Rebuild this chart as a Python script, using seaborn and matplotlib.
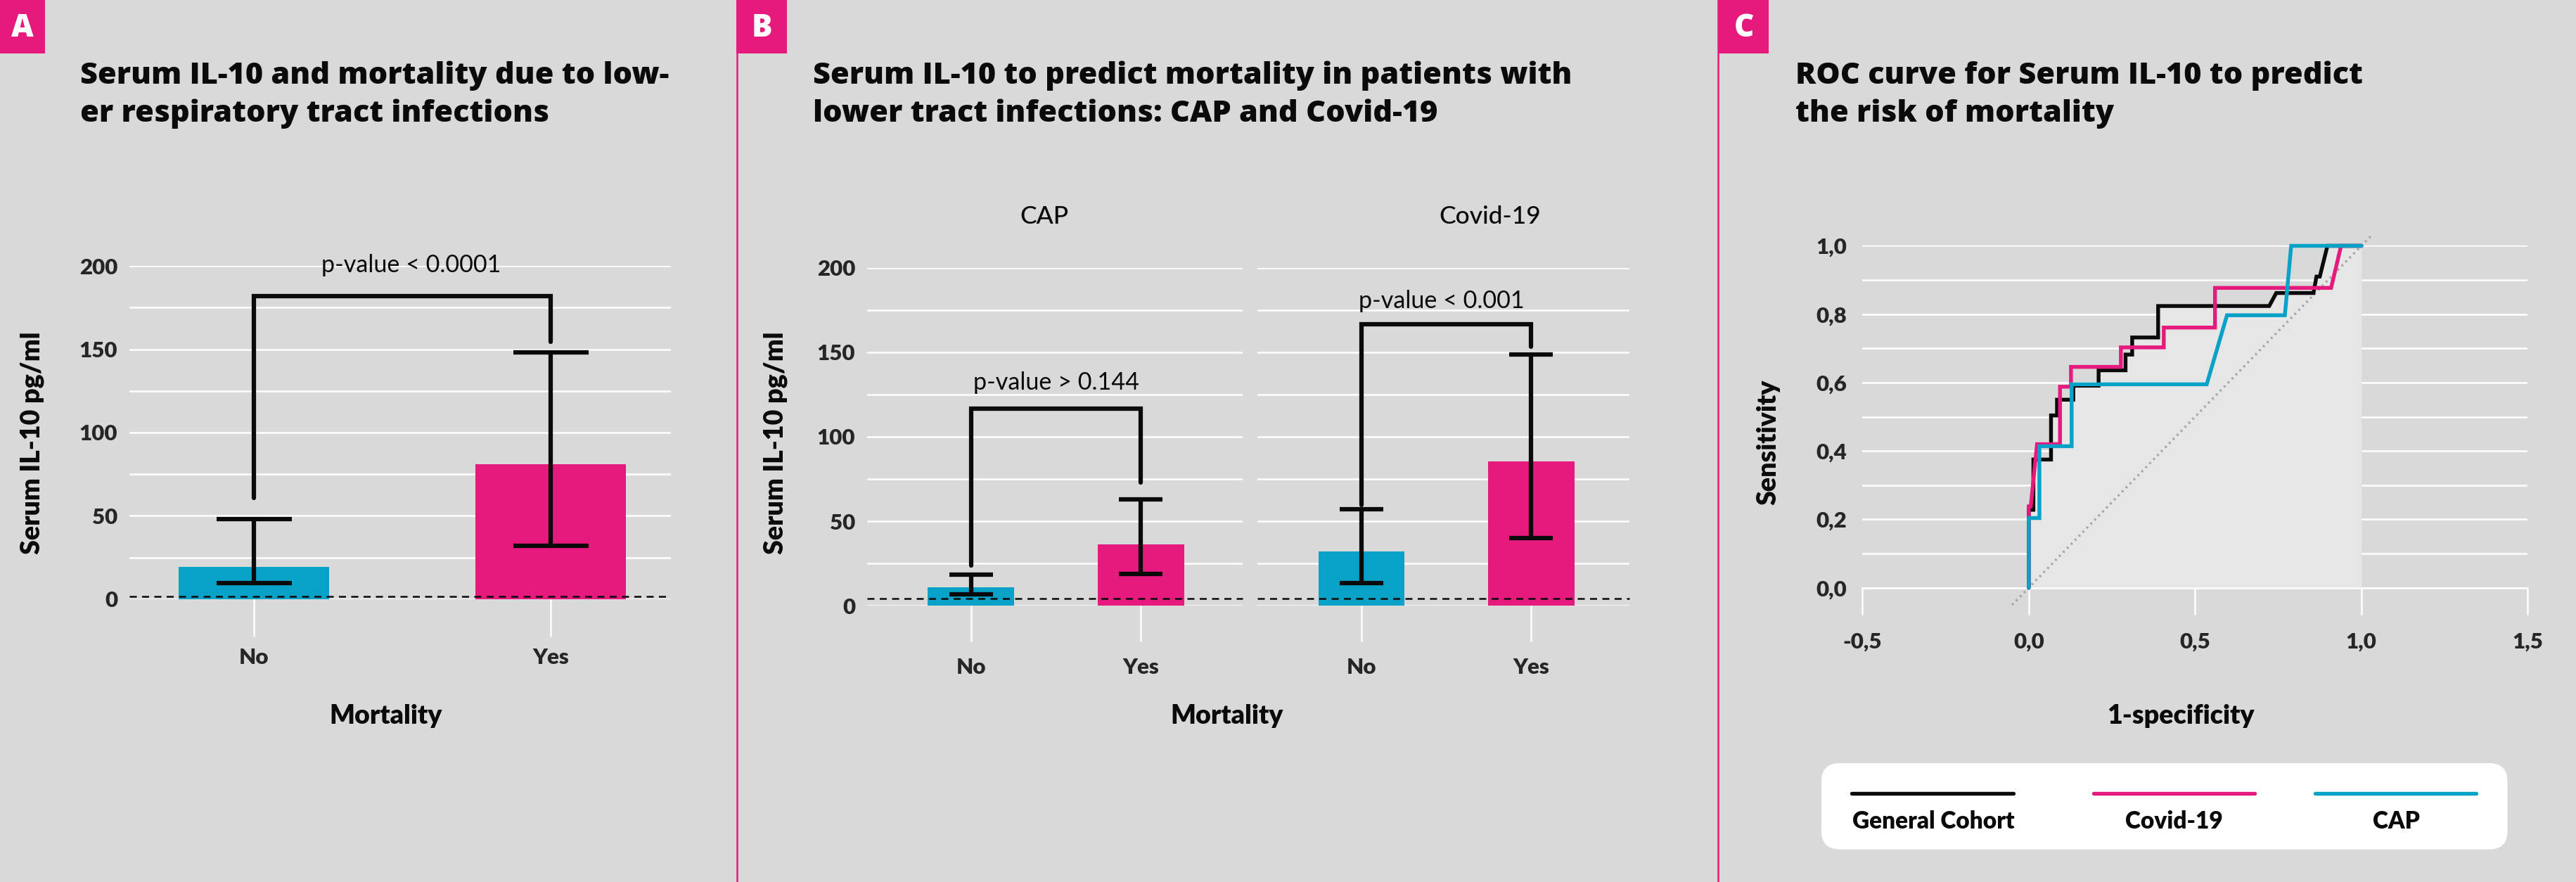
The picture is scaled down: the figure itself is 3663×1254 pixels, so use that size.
import numpy as np
import pandas as pd
import matplotlib
matplotlib.use('Agg')
import matplotlib.pyplot as plt
import seaborn as sns
from matplotlib.patches import FancyBboxPatch, Rectangle
from matplotlib.lines import Line2D

# ---------------- data ----------------
mortality = ['No', 'Yes']

# Panel A: general cohort
a_mean = [19.3, 81.0]
a_low = [9.5, 32.1]
a_high = [48.0, 148.0]
a_bracket = [60.8, 181.8, 154.4]      # left leg end, top, right leg end
a_pvalue = 'p-value < 0.0001'
a_ref = 1.7

# Panel B: CAP and Covid-19
b_groups = ['CAP', 'Covid-19']
cap_mean = [11.0, 36.3]
cap_low = [6.7, 19.0]
cap_high = [18.3, 62.9]
cap_bracket = [24.0, 116.8, 72.9]
cap_pvalue = 'p-value > 0.144'
covid_mean = [32.3, 85.5]
covid_low = [13.3, 40.0]
covid_high = [57.0, 148.8]
covid_bracket = [59.6, 166.4, 153.1]
covid_pvalue = 'p-value < 0.001'
b_ref = 4.3

y_ticks_bar = [0, 50, 100, 150, 200]

# Panel C: ROC curves
roc_names = ['General Cohort', 'Covid-19', 'CAP']
gen_fpr = [0, 0, 0.014, 0.014, 0.067, 0.067, 0.085, 0.085, 0.134, 0.134, 0.21, 0.21,
           0.291, 0.291, 0.311, 0.311, 0.389, 0.389, 0.723, 0.744, 0.856, 0.865, 0.875, 0.898, 1.0]
gen_tpr = [0, 0.228, 0.228, 0.375, 0.375, 0.504, 0.504, 0.55, 0.55, 0.591, 0.591, 0.636,
           0.636, 0.682, 0.682, 0.732, 0.732, 0.824, 0.824, 0.862, 0.862, 0.910, 0.910, 1.0, 1.0]
cov_fpr = [0, 0, 0.006, 0.025, 0.094, 0.094, 0.127, 0.127, 0.277, 0.277, 0.406, 0.406,
           0.56, 0.56, 0.909, 0.939, 1.0]
cov_tpr = [0, 0.238, 0.238, 0.42, 0.42, 0.588, 0.588, 0.646, 0.646, 0.703, 0.703, 0.761,
           0.761, 0.877, 0.877, 1.0, 1.0]
cap_fpr = [0, 0, 0.032, 0.032, 0.129, 0.129, 0.535, 0.596, 0.77, 0.789, 1.0]
cap_tpr = [0, 0.204, 0.204, 0.414, 0.414, 0.595, 0.595, 0.797, 0.797, 1.0, 1.0]
diag = [-0.05, 1.03]
c_xticks = [-0.5, 0.0, 0.5, 1.0, 1.5]
c_xticklabels = ['-0,5', '0,0', '0,5', '1,0', '1,5']
c_yticks = [0.0, 0.2, 0.4, 0.6, 0.8, 1.0]
c_yticklabels = ['0,0', '0,2', '0,4', '0,6', '0,8', '1,0']

# ---------------- style ----------------
BG = '#d9d9d9'
PINK = '#e6197d'
BLUE = '#08a1c7'
FILL = '#e6e6e6'
INK = '#0a0a0a'

sns.set_style('white', rc={'axes.facecolor': BG, 'figure.facecolor': BG})
plt.rcParams['font.family'] = ['Lato', 'DejaVu Sans']

W, H, DPI = 3663, 1254, 300
fig = plt.figure(figsize=(W / DPI, H / DPI), dpi=DPI, facecolor=BG)


def rect(x0, y0, x1, y1):
    return [x0 / W, 1 - y1 / H, (x1 - x0) / W, (y1 - y0) / H]


def pt(v):
    return v * 72 / DPI


def ftext(x, y, s, **kw):
    return fig.text(x / W, 1 - y / H, s, **kw)


# separators and panel letters
for sx in (1048, 2443):
    fig.add_artist(Line2D([sx / W, sx / W], [0, 1], color=PINK, lw=pt(2.5)))
for (bx0, bx1, letter) in ((-8, 64, 'A'), (1047, 1119, 'B'), (2444, 2515, 'C')):
    fig.add_artist(Rectangle((bx0 / W, 1 - 76 / H), (bx1 - bx0) / W, 76 / H,
                             transform=fig.transFigure, color=PINK, lw=0))
    ftext((max(bx0, 0) + bx1) / 2 if bx0 < 0 else (bx0 + bx1) / 2, 52, letter,
          color='white', fontsize=10.5, fontweight=800, family=['Open Sans', 'DejaVu Sans'],
          ha='center', va='baseline')

TITLE_KW = dict(fontsize=10.4, fontweight=800, family=['Open Sans', 'DejaVu Sans'],
                color=INK, ha='left', va='baseline')
ftext(114, 119, 'Serum IL-10 and mortality due to low-', **TITLE_KW)
ftext(114, 173, 'er respiratory tract infections', **TITLE_KW)
ftext(1156, 119, 'Serum IL-10 to predict mortality in patients with', **TITLE_KW)
ftext(1156, 173, 'lower tract infections: CAP and Covid-19', **TITLE_KW)
ftext(2553, 119, 'ROC curve for Serum IL-10 to predict', **TITLE_KW)
ftext(2553, 173, 'the risk of mortality', **TITLE_KW)

LW = 1.5


def bar_panel(ax, means, lows, highs, bracket, ptext, ptext_x, ptext_y, ref, xlim,
              cap_pts, tick_len, xpad, show_y=True):
    sns.barplot(x=mortality, y=means, hue=mortality, palette=[BLUE, PINK],
                width=0.506, saturation=1, errorbar=None, legend=False, ax=ax, zorder=2,
                edgecolor='none', linewidth=0)
    means = np.asarray(means)
    yerr = [means - np.asarray(lows), np.asarray(highs) - means]
    ax.errorbar([0, 1], means, yerr=yerr, fmt='none', ecolor=INK, elinewidth=LW,
                capsize=cap_pts, capthick=LW, zorder=4)
    ax.plot([0, 0, 1, 1], [bracket[0], bracket[1], bracket[1], bracket[2]], color=INK,
            lw=LW, solid_capstyle='round', solid_joinstyle='miter', zorder=4)
    ax.text(ptext_x, ptext_y, ptext, ha='center', va='center', fontsize=8.2,
            fontweight='normal', color=INK, zorder=5)
    ax.axhline(ref, color=INK, lw=0.6, ls=(0, (4, 3)), zorder=3, clip_on=False)
    for s in ax.spines.values():
        s.set_visible(False)
    ax.set_ylim(0, 200)
    ax.set_xlim(*xlim)
    ax.set_yticks(y_ticks_bar)
    ax.set_yticks(np.arange(0, 201, 25), minor=True)
    ax.grid(True, which='both', axis='y', color='white', lw=0.6)
    ax.grid(False, axis='x')
    ax.set_axisbelow(True)
    ax.tick_params(axis='x', length=pt(tick_len), width=0.6, color='white', pad=xpad,
                   labelsize=7.5, bottom=True)
    ax.tick_params(axis='y', which='both', length=0, pad=pt(17), labelsize=7.5, left=False)
    if not show_y:
        ax.set_yticklabels([])
    for lbl in ax.get_xticklabels() + ax.get_yticklabels():
        lbl.set_fontweight('heavy')
    ax.set_xlabel('')
    ax.set_ylabel('')


# ---------------- Panel A ----------------
axA = fig.add_axes(rect(184, 378.3, 954, 851.7))
bar_panel(axA, a_mean, a_low, a_high, a_bracket, a_pvalue, 0.529, 200.7, a_ref,
          (-0.419, 1.404), pt(53.5), 53, 4.0)
axA.set_ylabel('Serum IL-10 pg/ml', fontsize=9, fontweight='heavy', color=INK, va='center')
axA.yaxis.set_label_coords(-0.18, 0.468)
axA.set_xlabel('Mortality', fontsize=9, fontweight='heavy', color=INK, va='center')
axA.xaxis.set_label_coords(0.474, -0.351)

# ---------------- Panel B ----------------
axB1 = fig.add_axes(rect(1233, 380.7, 1767, 861.3))
axB2 = fig.add_axes(rect(1788, 380.7, 2317, 861.3))
bar_panel(axB1, cap_mean, cap_low, cap_high, cap_bracket, cap_pvalue, 0.502, 132.0, b_ref,
          (-0.61, 1.598), pt(30.8), 51, 5.5)
bar_panel(axB2, covid_mean, covid_low, covid_high, covid_bracket, covid_pvalue, 0.472, 180.5,
          b_ref, (-0.611, 1.577), pt(30.8), 51, 5.5, show_y=False)
axB1.set_ylabel('Serum IL-10 pg/ml', fontsize=9, fontweight='heavy', color=INK, va='center')
axB1.yaxis.set_label_coords(-0.2434, 0.481)
axB1.set_xlabel('Mortality', fontsize=9, fontweight='heavy', color=INK, va='center')
axB1.xaxis.set_label_coords(0.958, -0.326)
axB1.text(0.471, 1.151, b_groups[0], transform=axB1.transAxes, ha='center', va='center',
          fontsize=8.5, fontweight='medium', color=INK)
axB2.text(0.625, 1.151, b_groups[1], transform=axB2.transAxes, ha='center', va='center',
          fontsize=8.5, fontweight='medium', color=INK)

# ---------------- Panel C ----------------
axC = fig.add_axes(rect(2648.3, 349.5, 3594.3, 835.7))
roc_df = pd.concat([
    pd.DataFrame({'fpr': gen_fpr, 'tpr': gen_tpr, 'cohort': roc_names[0]}),
    pd.DataFrame({'fpr': cov_fpr, 'tpr': cov_tpr, 'cohort': roc_names[1]}),
    pd.DataFrame({'fpr': cap_fpr, 'tpr': cap_tpr, 'cohort': roc_names[2]}),
], ignore_index=True)
palette = {roc_names[0]: INK, roc_names[1]: PINK, roc_names[2]: BLUE}
axC.fill_between(gen_fpr, gen_tpr, 0, color=FILL, lw=0, zorder=1.5)
axC.plot(diag, diag, color='#a3a3a3', lw=0.8, ls=(0, (0.8, 1.6)), zorder=2, clip_on=False)
sns.lineplot(data=roc_df, x='fpr', y='tpr', hue='cohort', hue_order=roc_names,
             palette=palette, sort=False, estimator=None, lw=1.3, legend=False, ax=axC,
             zorder=3)
for ln in axC.get_lines():
    ln.set_clip_on(False)
    ln.set_solid_joinstyle('miter')
for s in axC.spines.values():
    s.set_visible(False)
axC.spines['bottom'].set_visible(True)
axC.spines['bottom'].set_color('white')
axC.spines['bottom'].set_linewidth(0.6)
axC.spines['bottom'].set_zorder(2.5)
axC.set_xlim(-0.5, 1.5)
axC.set_ylim(0, 1.0)
axC.set_xticks(c_xticks)
axC.set_xticklabels(c_xticklabels)
axC.set_yticks(c_yticks)
axC.set_yticklabels(c_yticklabels)
axC.set_yticks(np.arange(0, 1.01, 0.1), minor=True)
axC.grid(True, which='both', axis='y', color='white', lw=0.6)
axC.grid(False, axis='x')
axC.set_axisbelow(True)
axC.tick_params(axis='x', length=pt(38), width=0.6, color='white', pad=6, labelsize=7.5,
                bottom=True)
axC.tick_params(axis='y', which='both', length=0, pad=pt(22), labelsize=7.5, left=False)
for lbl in axC.get_xticklabels() + axC.get_yticklabels():
    lbl.set_fontweight('heavy')
axC.set_ylabel('Sensitivity', fontsize=9, fontweight='heavy', color=INK, va='center')
axC.yaxis.set_label_coords(-0.141, 0.425)
axC.set_xlabel('1-specificity', fontsize=9, fontweight='heavy', color=INK, va='center')
axC.xaxis.set_label_coords(0.4786, -0.375)

# legend box
axL = fig.add_axes(rect(2590, 1085, 3565.5, 1207.6))
axL.set_xlim(0, 975.5)
axL.set_ylim(122.6, 0)
axL.axis('off')
axL.add_patch(FancyBboxPatch((0, 0), 975.5, 122.6, boxstyle='round,pad=0,rounding_size=26',
                             fc='white', ec='none', clip_on=False))
for name, (lx0, lx1), tx in zip(roc_names, [(43.4, 272.7), (386.6, 615.9), (701.7, 931.0)],
                                [158.9, 501.3, 817.0]):
    axL.plot([lx0, lx1], [43.4, 43.4], color=palette[name], lw=1.3, solid_capstyle='round')
    axL.text(tx, 82.6, name, ha='center', va='center', fontsize=8, fontweight='heavy', color=INK)

fig.savefig('out.png', dpi=DPI, facecolor=BG)
